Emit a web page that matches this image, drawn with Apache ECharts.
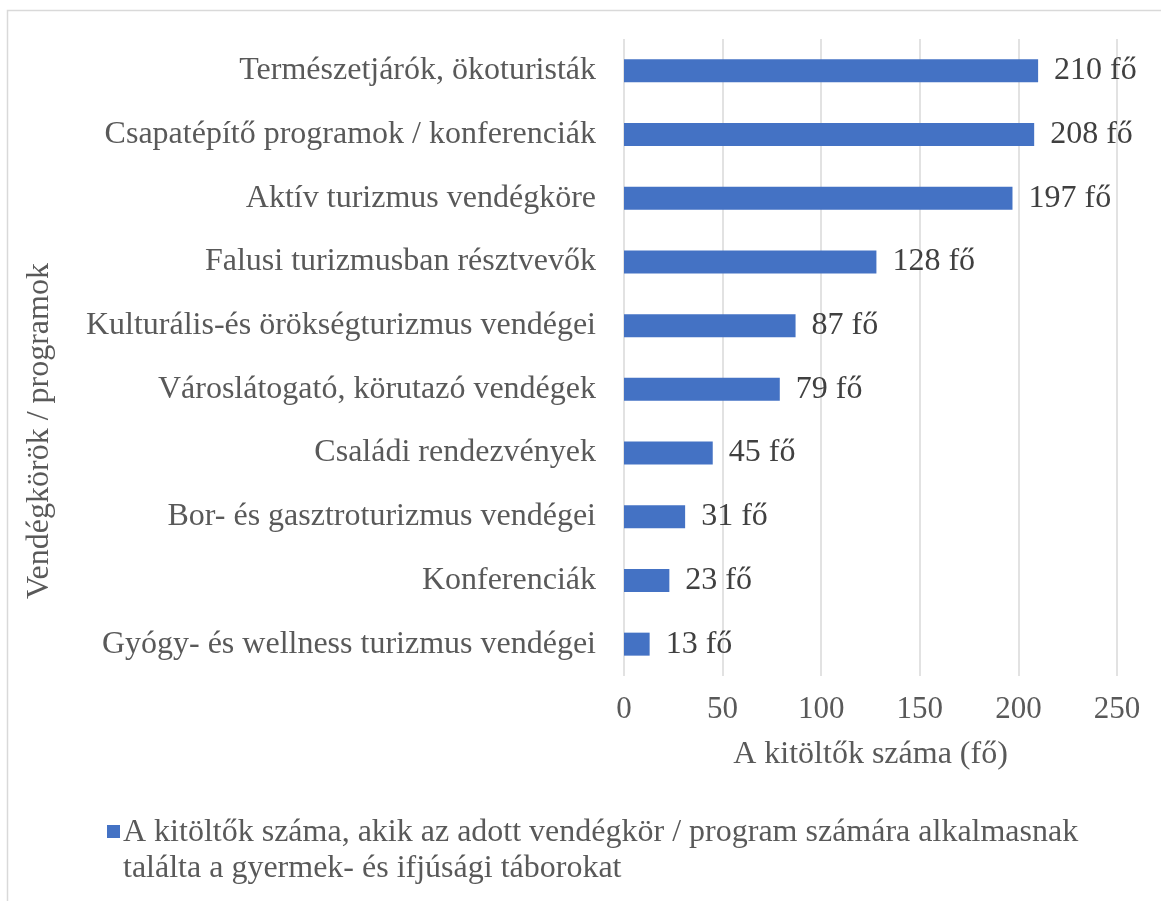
<!DOCTYPE html>
<html>
<head>
<meta charset="utf-8">
<script src="https://cdn.jsdelivr.net/npm/echarts@6/dist/echarts.min.js"></script>
<style>
  html, body { margin: 0; padding: 0; background: #fff; }
  #chart { width: 1161px; height: 901px; }
</style>
</head>
<body>
<div id="chart"></div>
<script>
var categories = [
    'Természetjárók, ökoturisták',
    'Csapatépítő programok / konferenciák',
    'Aktív turizmus vendégköre',
    'Falusi turizmusban résztvevők',
    'Kulturális-és örökségturizmus vendégei',
    'Városlátogató, körutazó vendégek',
    'Családi rendezvények',
    'Bor- és gasztroturizmus vendégei',
    'Konferenciák',
    'Gyógy- és wellness turizmus vendégei'
];
var counts = [210, 208, 197, 128, 87, 79, 45, 31, 23, 13];
var xTicks = [0, 50, 100, 150, 200, 250];
var seriesName = 'A kitöltők száma, akik az adott vendégkör / program számára alkalmasnak találta a gyermek- és ifjúsági táborokat';
var legendLines = [
    'A kitöltők száma, akik az adott vendégkör / program számára alkalmasnak',
    'találta a gyermek- és ifjúsági táborokat'
];

var font = '"Liberation Serif", "Times New Roman", serif';
var chart = echarts.init(document.getElementById('chart'));

var option = {
    backgroundColor: '#fff',
    animation: false,
    grid: {
        left: 624,
        right: 44,
        top: 39,
        bottom: 225,
        containLabel: false
    },
    xAxis: {
        type: 'value',
        min: xTicks[0],
        max: xTicks[xTicks.length - 1],
        interval: 50,
        name: 'A kitöltők száma (fő)',
        nameLocation: 'middle',
        nameGap: 63,
        nameTextStyle: {
            fontFamily: font,
            fontSize: 32,
            color: '#595959'
        },
        axisLine: { show: false },
        axisTick: { show: false },
        axisLabel: {
            margin: 18,
            fontFamily: font,
            fontSize: 31,
            color: '#595959'
        },
        splitLine: {
            show: true,
            lineStyle: { color: '#d9d9d9', width: 1.5 }
        }
    },
    yAxis: {
        type: 'category',
        data: categories,
        inverse: true,
        axisLine: { show: false },
        axisTick: { show: false },
        axisLabel: {
            margin: 28,
            fontFamily: font,
            fontSize: 32,
            color: '#595959'
        }
    },
    series: [{
        name: seriesName,
        type: 'bar',
        data: counts,
        barWidth: 23,
        itemStyle: { color: '#4472c4' },
        label: {
            show: true,
            position: 'right',
            distance: 16,
            formatter: '{c} fő',
            fontFamily: font,
            fontSize: 32,
            color: '#404040'
        }
    }],
    graphic: [
        {
            type: 'rect',
            silent: true,
            shape: { x: 7.5, y: 10.5, width: 1300, height: 1000 },
            style: { fill: 'none', stroke: '#d9d9d9', lineWidth: 1.5 }
        },
        {
            type: 'text',
            silent: true,
            x: 40,
            y: 431,
            rotation: Math.PI / 2,
            style: {
                text: 'Vendégkörök / programok',
                font: '32px ' + font,
                fill: '#595959',
                align: 'center',
                verticalAlign: 'middle'
            }
        },
        {
            type: 'rect',
            silent: true,
            shape: { x: 107, y: 825, width: 13, height: 13 },
            style: { fill: '#4472c4' }
        },
        {
            type: 'text',
            silent: true,
            x: 123,
            y: 815,
            style: {
                text: legendLines.join('\n'),
                font: '32px ' + font,
                fill: '#595959',
                lineHeight: 36,
                align: 'left',
                verticalAlign: 'top'
            }
        }
    ]
};

chart.setOption(option);
</script>
</body>
</html>
